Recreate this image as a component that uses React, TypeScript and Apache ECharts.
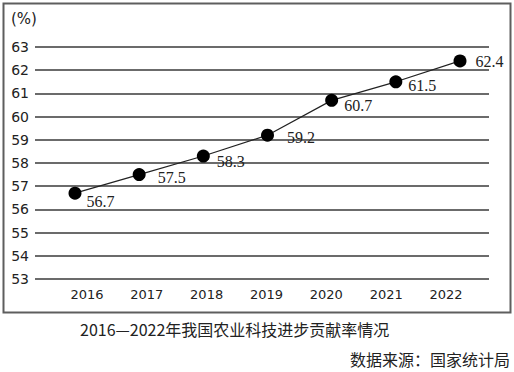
import React, { useEffect, useRef } from "react";
import * as echarts from "echarts";

const years = ["2016", "2017", "2018", "2019", "2020", "2021", "2022"];
const contribution = [56.7, 57.5, 58.3, 59.2, 60.7, 61.5, 62.4];
const yTicks = { min: 53, max: 63, interval: 1 };
const caption = "2016—2022年我国农业科技进步贡献率情况";
const source = "数据来源：国家统计局";
const unit = "(%)";

// label offsets (style only)
const labelOffsets: [number, number][] = [
  [0, 8],
  [7, 3],
  [2, 5],
  [8, 2],
  [1, 5],
  [1, 4],
  [4, 1],
];

export default function App() {
  const ref = useRef<HTMLDivElement>(null);
  useEffect(() => {
    if (!ref.current) return;
    const chart = echarts.init(ref.current, null, { renderer: "svg" });
    const pxPerYear = (460 - 75) / 6;
    const option: any = {
      animation: false,
      backgroundColor: "#ffffff",
      grid: [
        { left: 35, right: 25, top: 47, height: 232 },
        { left: 57, width: 419, top: 47, height: 232 },
      ],
      xAxis: [
        {
          type: "value",
          gridIndex: 0,
          min: 2016 - 40 / pxPerYear,
          max: 2022 + 29 / pxPerYear,
          show: false,
          splitLine: { show: false },
        },
        {
          type: "category",
          gridIndex: 1,
          data: years,
          boundaryGap: true,
          axisLine: { show: false },
          axisTick: { show: false },
          axisLabel: {
            margin: 9,
            color: "#222",
            fontFamily: "DejaVu Sans",
            fontSize: 13,
          },
        },
      ],
      yAxis: [
        {
          type: "value",
          gridIndex: 0,
          min: yTicks.min,
          max: yTicks.max,
          interval: yTicks.interval,
          axisLine: { show: false },
          axisTick: { show: false },
          axisLabel: {
            margin: 6,
            color: "#222",
            fontFamily: "DejaVu Sans",
            fontSize: 14,
          },
          splitLine: { lineStyle: { color: "#3a3a3a", width: 1.5 } },
        },
        { type: "value", gridIndex: 1, show: false, min: yTicks.min, max: yTicks.max },
      ],
      series: [
        {
          type: "line",
          xAxisIndex: 0,
          yAxisIndex: 0,
          data: contribution.map((v, i) => ({
            value: [Number(years[i]), v],
            label: { offset: labelOffsets[i] },
          })),
          symbol: "circle",
          symbolSize: 13,
          itemStyle: { color: "#000" },
          lineStyle: { color: "#222", width: 1.2 },
          label: {
            show: true,
            position: "right",
            distance: 5,
            color: "#222",
            fontFamily: "Liberation Serif",
            fontSize: 16,
            formatter: (p: any) => p.value[1].toFixed(1),
          },
        },
      ],
      graphic: [
        {
          type: "rect",
          shape: { x: 3.5, y: 3.5, width: 507, height: 309 },
          style: { fill: "none", stroke: "#5e5e5e", lineWidth: 2 },
          silent: true,
        },
        {
          type: "text",
          left: 11,
          top: 11,
          style: { text: unit, fill: "#222", font: "15px 'DejaVu Sans'" },
        },
        {
          type: "text",
          left: 80,
          top: 321,
          style: { text: caption, fill: "#222", font: "16px 'Noto Sans CJK SC'" },
        },
        {
          type: "text",
          right: 4,
          top: 351,
          style: { text: source, fill: "#222", font: "16px 'Noto Sans CJK SC'" },
        },
      ],
    };
    chart.setOption(option);
    return () => chart.dispose();
  }, []);
  return (
    <div
      ref={ref}
      style={{ position: "fixed", left: 0, top: 0, width: 514, height: 372 }}
    />
  );
}
